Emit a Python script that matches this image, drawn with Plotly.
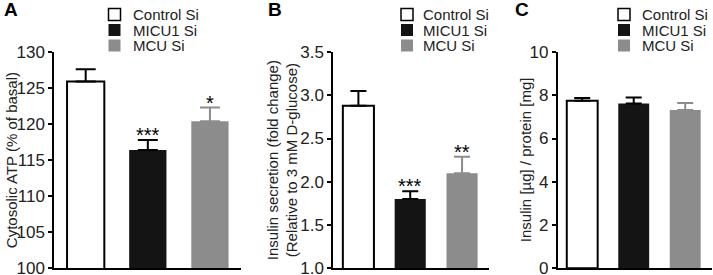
import plotly.graph_objects as go

# ---------------- data ----------------
groups = ["Control Si", "MICU1 Si", "MCU Si"]

atp_mean = [125.9, 116.4, 120.4]
atp_sem = [1.7, 1.4, 1.9]
atp_sig = ["", "***", "*"]

secretion_mean = [2.88, 1.80, 2.10]
secretion_sem = [0.17, 0.09, 0.19]
secretion_sig = ["", "***", "**"]

content_mean = [7.75, 7.62, 7.32]
content_sem = [0.12, 0.28, 0.32]
content_sig = ["", "", ""]

atp_ticks = [100, 105, 110, 115, 120, 125, 130]
secretion_ticks = [1.0, 1.5, 2.0, 2.5, 3.0, 3.5]
content_ticks = [0, 2, 4, 6, 8, 10]

panel_letters = ["A", "B", "C"]
y_titles = [
    "Cytosolic ATP (% of basal)",
    "Insulin secretion (fold change)<br>(Relative to 3 mM D-glucose)",
    "Insulin [µg] / protein [mg]",
]

# ---------------- styling / layout ----------------
W, H = 713, 275
FONT = "Liberation Sans, Arial, Helvetica, sans-serif"
fill_colors = ["#ffffff", "#141414", "#8c8c8c"]
edge_colors = ["#000000", "#141414", "#8c8c8c"]
err_colors = ["#000000", "#000000", "#8c8c8c"]


def fx(px):
    return px / W


def fy(py):
    return 1 - py / H


PT, PB = 52.0, 268.3  # plot top / bottom in pixels

panels = [
    dict(mean=atp_mean, sem=atp_sem, sig=atp_sig, ticks=atp_ticks, fmt="d",
         x0=54, x1=241, xr=[-0.51, 2.5], cap=10,
         title_x=[11], letter_x=2, leg_box=108.5, leg_text=131),
    dict(mean=secretion_mean, sem=secretion_sem, sig=secretion_sig,
         ticks=secretion_ticks, fmt=".1f",
         x0=333, x1=489, xr=[-0.49, 2.52], cap=8,
         title_x=[282], letter_x=266, leg_box=401, leg_text=421),
    dict(mean=content_mean, sem=content_sem, sig=content_sig,
         ticks=content_ticks, fmt="d",
         x0=557.5, x1=712, xr=[-0.48, 2.52], cap=8,
         title_x=[525], letter_x=513, leg_box=618, leg_text=640),
]

fig = go.Figure()
annotations = []
shapes = []

for n, p in enumerate(panels, start=1):
    xa = "x" if n == 1 else f"x{n}"
    ya = "y" if n == 1 else f"y{n}"
    for i, g in enumerate(groups):
        fig.add_trace(go.Bar(
            x=[i], y=[p["mean"][i]], name=g, showlegend=False,
            width=0.6, xaxis=xa, yaxis=ya,
            marker=dict(color=fill_colors[i],
                        line=dict(color=edge_colors[i], width=2 if i == 0 else 0)),
            error_y=dict(type="data", symmetric=False,
                         array=[p["sem"][i]], arrayminus=[0],
                         color=err_colors[i], thickness=2, width=p["cap"]),
        ))
        if p["sig"][i]:
            annotations.append(dict(
                x=i, y=p["mean"][i] + p["sem"][i], xref=xa, yref=ya,
                text=p["sig"][i], showarrow=False, yanchor="bottom",
                yshift=-8, font=dict(size=20, color="#000", family=FONT)))

    lo, hi = p["ticks"][0], p["ticks"][-1]
    xkey = "xaxis" if n == 1 else f"xaxis{n}"
    ykey = "yaxis" if n == 1 else f"yaxis{n}"
    fig.update_layout(**{
        xkey: dict(domain=[fx(p["x0"]), fx(p["x1"])], range=p["xr"],
                   anchor=ya, showline=True, linecolor="#000", linewidth=1.5,
                   showticklabels=False, ticks="", showgrid=False,
                   zeroline=False, fixedrange=True, automargin=False),
        ykey: dict(domain=[fy(PB), fy(PT)], range=[lo, hi], anchor=xa,
                   tickvals=p["ticks"], tickformat=p["fmt"],
                   showline=True, linecolor="#000", linewidth=1.5,
                   ticks="outside", ticklen=4, tickwidth=1.5, tickcolor="#000",
                   showgrid=False, zeroline=False, automargin=False,
                   ticklabeloverflow="allow",
                   tickfont=dict(size=17, color="#222", family=FONT)),
    })

    # y-axis title
    annotations.append(dict(
        x=fx(p["title_x"][0]), y=fy((PT + PB) / 2), xref="paper", yref="paper",
        text=y_titles[n - 1], textangle=-90, showarrow=False,
        xanchor="center", yanchor="middle",
        font=dict(size=15, color="#222", family=FONT)))

    # panel letter
    annotations.append(dict(
        x=fx(p["letter_x"]), y=1, xref="paper", yref="paper",
        text=f"<b>{panel_letters[n-1]}</b>", showarrow=False,
        xanchor="left", yanchor="top", yshift=3,
        font=dict(size=19, color="#000", family=FONT)))

    # legend
    row_y = [14.5, 30, 45.5]
    for i, g in enumerate(groups):
        shapes.append(dict(
            type="rect", xref="paper", yref="paper",
            x0=fx(p["leg_box"]), x1=fx(p["leg_box"] + 12),
            y0=fy(row_y[i] + 6), y1=fy(row_y[i] - 6),
            fillcolor=fill_colors[i],
            line=dict(color=edge_colors[i], width=1.5 if i == 0 else 0)))
        annotations.append(dict(
            x=fx(p["leg_text"]), y=fy(row_y[i]), xref="paper", yref="paper",
            text=g, showarrow=False, xanchor="left", yanchor="middle",
            font=dict(size=15, color="#222", family=FONT)))

fig.update_layout(
    width=W, height=H, margin=dict(l=0, r=0, t=0, b=0, autoexpand=False),
    paper_bgcolor="white", plot_bgcolor="white",
    showlegend=False, bargap=0.4,
    annotations=annotations, shapes=shapes,
    font=dict(family=FONT),
)

fig.write_html(
    "out.html",
    config={"displayModeBar": False},
    post_script=(
        "document.body.style.margin='0';document.body.style.overflow='hidden';"
    ),
)
